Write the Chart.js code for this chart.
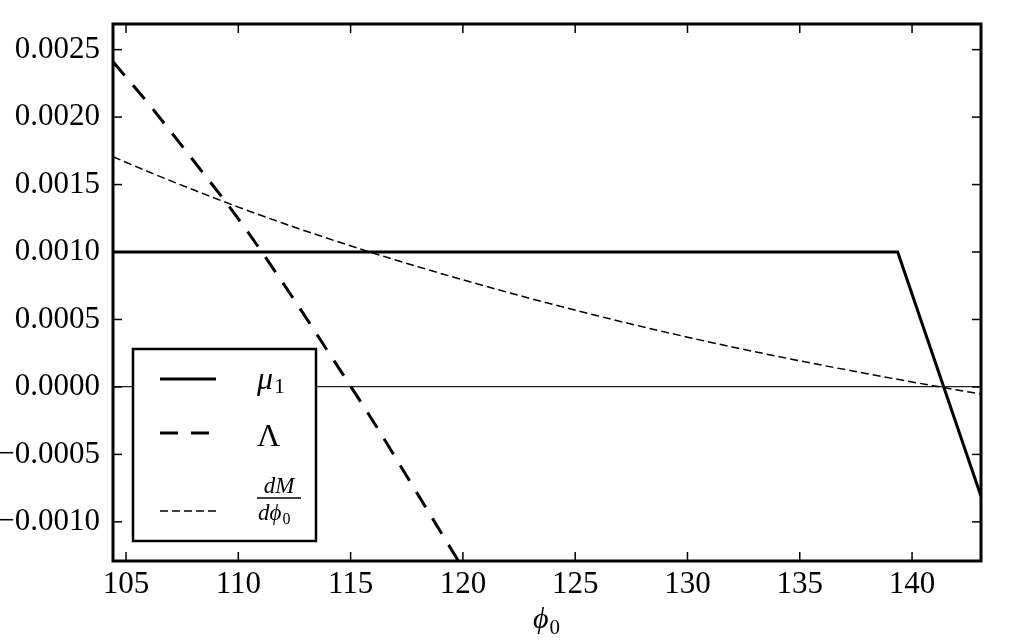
<!DOCTYPE html>
<html>
<head>
<meta charset="utf-8">
<script src="https://cdn.jsdelivr.net/npm/chart.js@4/dist/chart.umd.min.js"></script>
<style>
  html, body { margin: 0; padding: 0; background: #fff; }
  #wrap { width: 1021px; height: 640px; position: relative; }
</style>
</head>
<body>
<div id="wrap"><canvas id="chart"></canvas></div>
<script>
// axis limits and ticks
const xMin = 104.42, xMax = 143.07;
const yMin = -0.00129, yMax = 0.00269;
const xTicks = [105, 110, 115, 120, 125, 130, 135, 140];
const yTicks = [-0.0010, -0.0005, 0.0, 0.0005, 0.0010, 0.0015, 0.0020, 0.0025];

// mu_1
const muX = [104.42, 139.36, 143.07];
const muY = [0.0010, 0.0010, -0.00081];

// Lambda
const lambdaX = [104.42, 106, 108, 110, 112, 114, 116, 118, 119.8];
const lambdaY = [0.00241, 0.002099, 0.001678, 0.001246, 0.000768, 0.000261, -0.000254, -0.000798, -0.00129];

// dM / dphi_0
const dmX = [104.42, 106, 108, 110, 112, 114, 116, 118, 120, 122, 124, 126, 128, 130, 132, 134, 136, 138, 140, 142, 143.07];
const dmY = [0.001706, 0.001595, 0.001461, 0.001333, 0.001213, 0.001100, 0.000993, 0.000891, 0.000794, 0.000701, 0.000612,
             0.000527, 0.000446, 0.000369, 0.000296, 0.000227, 0.000161, 0.000098, 0.000037, -0.000022, -0.000053];

const pts = (xs, ys) => xs.map((x, i) => ({ x: x, y: ys[i] }));
const SERIF = "'Liberation Serif', 'Times New Roman', serif";
const GREEK = "'Liberation Serif', 'DejaVu Serif', serif";

const datasets = [
  { label: 'mu1', data: pts(muX, muY), borderColor: '#000', borderWidth: 3, borderDash: [], tension: 0 },
  { label: 'Lambda', data: pts(lambdaX, lambdaY), borderColor: '#000', borderWidth: 3, borderDash: [18, 13], cubicInterpolationMode: 'monotone' },
  { label: 'dM', data: pts(dmX, dmY), borderColor: '#000', borderWidth: 1.5, borderDash: [8, 4], cubicInterpolationMode: 'monotone' }
];
datasets.forEach(d => { d.pointRadius = 0; d.fill = false; });

function line(ctx, x1, y1, x2, y2) {
  ctx.beginPath(); ctx.moveTo(x1, y1); ctx.lineTo(x2, y2); ctx.stroke();
}

const framePlugin = {
  id: 'frame',
  afterDraw(chart) {
    const { ctx, chartArea: a, scales: { x, y } } = chart;
    ctx.save();
    // inward ticks on all four sides
    ctx.strokeStyle = '#000';
    ctx.lineWidth = 1.5;
    xTicks.forEach(v => {
      const px = x.getPixelForValue(v);
      line(ctx, px, a.bottom, px, a.bottom - 9);
      line(ctx, px, a.top, px, a.top + 9);
    });
    yTicks.forEach(v => {
      const py = y.getPixelForValue(v);
      line(ctx, a.left, py, a.left + 9, py);
      line(ctx, a.right, py, a.right - 9, py);
    });
    ctx.lineWidth = 3;
    ctx.strokeRect(a.left, a.top, a.right - a.left, a.bottom - a.top);

    // x axis title: phi_0
    ctx.fillStyle = '#000';
    ctx.textBaseline = 'alphabetic';
    ctx.textAlign = 'left';
    const cx = (a.left + a.right) / 2;
    ctx.font = 'italic 30px ' + GREEK;
    const wPhi = ctx.measureText('ϕ').width;
    ctx.fillText('ϕ', cx - 14, 628);
    ctx.font = '21px ' + SERIF;
    ctx.fillText('0', cx - 14 + wPhi + 1, 634);

    // legend
    const lx = a.left + 20, ly = a.top + 325, lw = 183, lh = 192;
    ctx.fillStyle = '#fff';
    ctx.fillRect(lx, ly, lw, lh);
    ctx.lineWidth = 2.5;
    ctx.strokeStyle = '#000';
    ctx.strokeRect(lx, ly, lw, lh);
    const rows = [ly + 30, ly + 84, ly + 162];
    chart.data.datasets.forEach((d, i) => {
      ctx.lineWidth = d.borderWidth;
      ctx.setLineDash(d.borderDash || []);
      line(ctx, lx + 27, rows[i], lx + 83, rows[i]);
    });
    ctx.setLineDash([]);
    ctx.fillStyle = '#000';
    const tx = lx + 124;
    ctx.font = 'italic 32px ' + GREEK;
    ctx.fillText('μ', tx, rows[0] + 10);
    const wMu = ctx.measureText('μ').width;
    ctx.font = '22px ' + SERIF;
    ctx.fillText('1', tx + wMu + 1, rows[0] + 14);
    ctx.font = '32px ' + GREEK;
    ctx.fillText('Λ', tx, rows[1] + 13);
    // fraction dM / dphi_0
    ctx.textAlign = 'center';
    ctx.font = 'italic 23px ' + GREEK;
    ctx.fillText('dM', tx + 22, rows[2] - 18);
    ctx.lineWidth = 1.5;
    line(ctx, tx, rows[2] - 13, tx + 44, rows[2] - 13);
    ctx.textAlign = 'left';
    ctx.fillText('dϕ', tx + 1, rows[2] + 9);
    const wDp = ctx.measureText('dϕ').width;
    ctx.font = '16px ' + SERIF;
    ctx.fillText('0', tx + 1 + wDp + 1, rows[2] + 13);
    ctx.restore();
  }
};

new Chart(document.getElementById('chart'), {
  type: 'line',
  data: { datasets: datasets },
  options: {
    responsive: true,
    maintainAspectRatio: false,
    animation: false,
    devicePixelRatio: 1,
    layout: { padding: { top: 24, right: 40, left: 0, bottom: 0 } },
    plugins: { legend: { display: false }, tooltip: { enabled: false } },
    scales: {
      x: {
        type: 'linear',
        min: xMin, max: xMax,
        afterBuildTicks: s => { s.ticks = xTicks.map(v => ({ value: v })); },
        afterFit: s => { s.height = 79; s.paddingLeft = 0; s.paddingRight = 0; },
        grid: { display: false, drawTicks: false },
        border: { display: false },
        ticks: { color: '#000', padding: 5, maxRotation: 0, font: { family: SERIF, size: 31 }, callback: v => String(v) }
      },
      y: {
        type: 'linear',
        min: yMin, max: yMax,
        afterBuildTicks: s => { s.ticks = yTicks.map(v => ({ value: v })); },
        afterFit: s => { s.width = 113; s.paddingTop = 0; s.paddingBottom = 0; },
        grid: {
          drawTicks: false,
          color: c => (c.tick && Math.abs(c.tick.value) < 1e-12) ? '#222' : 'rgba(0,0,0,0)',
          lineWidth: 1.2
        },
        border: { display: false },
        ticks: {
          color: '#000', padding: 13, font: { family: SERIF, size: 31 },
          callback: v => v.toFixed(4).replace('-', '\u2212')
        }
      }
    }
  },
  plugins: [framePlugin]
});
</script>
</body>
</html>
